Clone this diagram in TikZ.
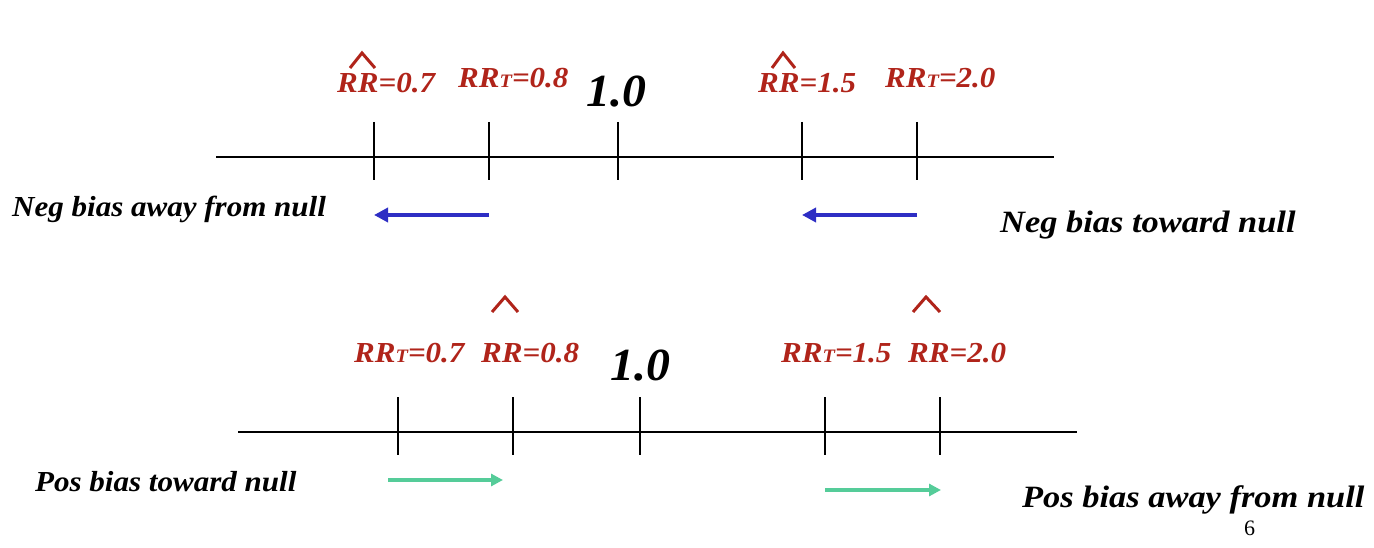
\documentclass[tikz,border=0pt]{standalone}
\usepackage{fontspec}
\setmainfont{Liberation Serif}
\newfontfamily\serifA[FakeStretch=1.07]{Liberation Serif}
\newfontfamily\serifB[FakeStretch=1.11]{Liberation Serif}
\newfontfamily\serifC[FakeStretch=1.04]{Liberation Serif}
\usetikzlibrary{arrows.meta}
\definecolor{rrred}{HTML}{B0241A}
\definecolor{negblue}{HTML}{2E2EC4}
\definecolor{posgreen}{HTML}{55CC99}
\newcommand{\rrT}{RR{\fontsize{19}{20}\selectfont T}}
\tikzset{
  x=1pt,y=-1pt,
  rrlab/.style={anchor=base west,inner sep=0pt,text=rrred,font=\serifA\fontsize{29}{31}\selectfont\bfseries\itshape},
  onelab/.style={anchor=base west,inner sep=0pt,font=\serifC\fontsize{46}{48}\selectfont\bfseries\itshape},
  biaslab/.style={anchor=base west,inner sep=0pt,font=\serifA\fontsize{29}{31}\selectfont\bfseries\itshape},
  biasbig/.style={anchor=base west,inner sep=0pt,font=\serifB\fontsize{31}{33}\selectfont\bfseries\itshape},
  axis/.style={line width=1.4pt,black},
  tick/.style={line width=1.4pt,black},
  hat/.style={rrred,line width=3pt},
  negarrow/.style={negblue,line width=4pt,-{Triangle[length=14pt,width=14pt]}},
  posarrow/.style={posgreen,line width=3.5pt,-{Triangle[length=12pt,width=12pt]}},
}
\begin{document}
\begin{tikzpicture}
\useasboundingbox (0,0) rectangle (1374,548);
% ---------- top axis ----------
\coordinate (tL) at (216,157);
\coordinate (tR) at (1054,157);
\draw[axis] (tL) -- (tR);
\foreach \n/\x in {a/374,b/489,c/618,d/802,e/917}{
  \coordinate (t\n top) at (\x,122);
  \coordinate (t\n bot) at (\x,180);
  \coordinate (t\n arr) at (\x,215);
  \draw[tick] (t\n top) -- (t\n bot);
}
\node[rrlab] (l1) at (337,93) {RR=0.7};
\node[rrlab] (l2) at (458,88) {\rrT=0.8};
\node[onelab] (l3) at (586,107) {1.0};
\node[rrlab] (l4) at (758,93) {RR=1.5};
\node[rrlab] (l5) at (885,88) {\rrT=2.0};
\draw[hat] (350,68) -- (362,53) -- (375,68);
\draw[hat] (772,68) -- (783,53) -- (795,68);
\draw[negarrow] (tbarr) -- (taarr);
\draw[negarrow] (tearr) -- (tdarr);
\node[biaslab] (n1) at (12,217) {Neg bias away from null};
\node[biasbig] (n2) at (1000,233) {Neg bias toward null};
% ---------- bottom axis ----------
\coordinate (bL) at (238,432);
\coordinate (bR) at (1077,432);
\draw[axis] (bL) -- (bR);
\foreach \n/\x in {a/398,b/513,c/640,d/825,e/940}{
  \coordinate (b\n top) at (\x,397);
  \coordinate (b\n bot) at (\x,455);
  \draw[tick] (b\n top) -- (b\n bot);
}
\coordinate (g1s) at (388,480);
\coordinate (g1e) at (503,480);
\coordinate (g2s) at (825,490);
\coordinate (g2e) at (941,490);
\node[rrlab] (m1) at (354,362) {\rrT=0.7};
\node[rrlab] (m2) at (481,362) {RR=0.8};
\node[onelab] (m3) at (610,380) {1.0};
\node[rrlab] (m4) at (781,362) {\rrT=1.5};
\node[rrlab] (m5) at (908,362) {RR=2.0};
\draw[hat] (492,312) -- (505,297) -- (518,312);
\draw[hat] (913,312) -- (926,297) -- (940,312);
\draw[posarrow] (g1s) -- (g1e);
\draw[posarrow] (g2s) -- (g2e);
\node[biaslab] (p1) at (35,491) {Pos bias toward null};
\node[biasbig] (p2) at (1022,507) {Pos bias away from null};
\node[anchor=base west,inner sep=0pt,font=\fontsize{22}{24}\selectfont] (pg) at (1244,535) {6};
\end{tikzpicture}
\end{document}
